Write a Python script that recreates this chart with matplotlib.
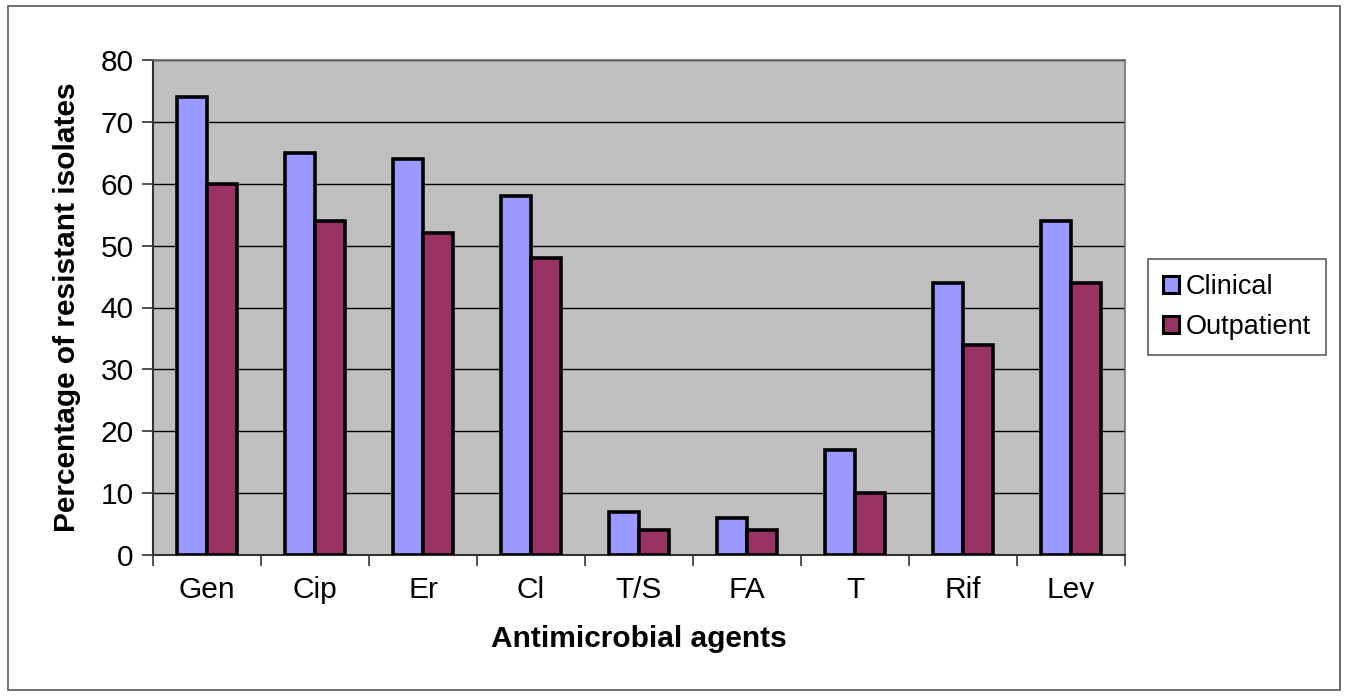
import matplotlib
matplotlib.use("Agg")
import matplotlib.pyplot as plt
import numpy as np
from matplotlib.patches import Rectangle

categories = ["Gen", "Cip", "Er", "Cl", "T/S", "FA", "T", "Rif", "Lev"]
clinical = [74, 65, 64, 58, 7, 6, 17, 44, 54]
outpatient = [60, 54, 52, 48, 4, 4, 10, 34, 44]

plt.rcParams['font.family'] = ['Liberation Sans', 'DejaVu Sans']

W, H = 1347, 696
FS = 21.5
fig = plt.figure(figsize=(W / 100, H / 100), dpi=100)
ax = fig.add_axes([153 / W, 1 - 555 / H, (1125 - 153) / W, (555 - 60) / H])

# outer frame
fig.patches.append(Rectangle((8 / W, 1 - 690 / H), (1340 - 8) / W, (690 - 6) / H,
                             transform=fig.transFigure, fill=False,
                             edgecolor='#555555', linewidth=1.2))

x = np.arange(len(categories))
bw = 0.282
ax.set_facecolor('#C0C0C0')
ax.bar(x - bw / 2, clinical, bw, color='#9999FF', edgecolor='black', linewidth=2.6,
       label='Clinical', zorder=3)
ax.bar(x + bw / 2, outpatient, bw, color='#993366', edgecolor='black', linewidth=2.6,
       label='Outpatient', zorder=3)

ax.set_xlim(-0.5, len(categories) - 0.5)
ax.set_ylim(0, 80)
ax.set_yticks(range(0, 81, 10))
ax.yaxis.grid(True, color='black', linewidth=1.0, zorder=1)
ax.set_axisbelow(True)

ax.set_xticks(x)
ax.set_xticklabels(categories, fontsize=FS)
ax.set_xticks(np.arange(-0.5, len(categories), 1), minor=True)
ax.tick_params(axis='x', which='major', length=0, pad=15)
ax.tick_params(axis='x', which='minor', length=8, width=1.2, direction='out', color='#333333')
ax.tick_params(axis='y', length=8, width=1.2, direction='out', labelsize=FS, pad=6, color='#333333')

for s in ['top', 'right']:
    ax.spines[s].set_color('#707070')
    ax.spines[s].set_linewidth(1.2)
for s in ['left', 'bottom']:
    ax.spines[s].set_color('#333333')
    ax.spines[s].set_linewidth(1.5)

ax.set_xlabel('Antimicrobial agents', fontsize=FS, fontweight='bold', labelpad=15)
ax.set_ylabel('Percentage of resistant isolates', fontsize=FS, fontweight='bold', labelpad=14)

leg = fig.legend(loc='center left', bbox_to_anchor=(1148 / W, 1 - 307 / H),
                 borderaxespad=0,
                 fontsize=19.5, frameon=True, fancybox=False, edgecolor='#333333',
                 handlelength=0.6, handleheight=0.6, handletextpad=0.25,
                 labelspacing=0.5, borderpad=0.55)
leg.get_frame().set_linewidth(1.2)
for h in leg.legend_handles:
    h.set_linewidth(2.2)

fig.savefig('out.png', dpi=100)
